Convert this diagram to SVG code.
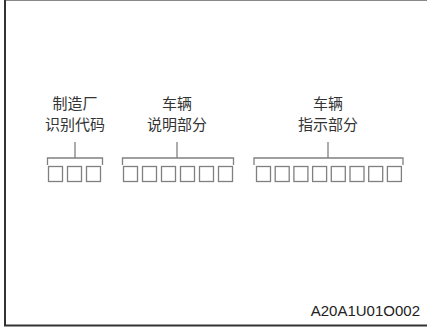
<svg xmlns="http://www.w3.org/2000/svg" width="427" height="328" viewBox="0 0 427 328">
<style>
.bx{fill:#fff;stroke:#808080;stroke-width:1.3}
.br{fill:none;stroke:#808080;stroke-width:1.3}
.lb{font-family:"Liberation Sans","Noto Sans CJK SC",sans-serif;font-size:15px;fill:#333;text-anchor:middle}
</style>
<rect width="427" height="328" fill="#fff"/>
<g id="frame">
<line x1="4" y1="0.5" x2="427" y2="0.5" stroke="#888" stroke-width="1"/>
<line x1="5" y1="0" x2="5" y2="326" stroke="#333" stroke-width="2"/>
<line x1="4" y1="325.5" x2="427" y2="325.5" stroke="#333" stroke-width="2"/>
</g>
<g id="connectors">
<path class="br" d="M75,142V158M47.5,165V158H102.5V165"/>
<path class="br" d="M177,142V158M122.5,165V158H233.5V165"/>
<path class="br" d="M328,142V158M254,165V158H403V165"/>
</g>
<g id="wmi">
<text class="lb" x="75" y="108.5">制造厂</text>
<text class="lb" x="75" y="130">识别代码</text>
<rect class="bx" x="48.5" y="166.5" width="14" height="15"/>
<rect class="bx" x="67.5" y="166.5" width="14" height="15"/>
<rect class="bx" x="86.5" y="166.5" width="14" height="15"/>
</g>
<g id="vds">
<text class="lb" x="177" y="108.5">车辆</text>
<text class="lb" x="177" y="130">说明部分</text>
<rect class="bx" x="123.5" y="166.5" width="14" height="15"/>
<rect class="bx" x="142.5" y="166.5" width="14" height="15"/>
<rect class="bx" x="161.5" y="166.5" width="14" height="15"/>
<rect class="bx" x="180.5" y="166.5" width="14" height="15"/>
<rect class="bx" x="199.5" y="166.5" width="14" height="15"/>
<rect class="bx" x="218.5" y="166.5" width="14" height="15"/>
</g>
<g id="vis">
<text class="lb" x="328" y="108.5">车辆</text>
<text class="lb" x="328" y="130">指示部分</text>
<rect class="bx" x="256.5" y="166.5" width="14" height="15"/>
<rect class="bx" x="275.2" y="166.5" width="14" height="15"/>
<rect class="bx" x="293.9" y="166.5" width="14" height="15"/>
<rect class="bx" x="312.6" y="166.5" width="14" height="15"/>
<rect class="bx" x="331.3" y="166.5" width="14" height="15"/>
<rect class="bx" x="350" y="166.5" width="14" height="15"/>
<rect class="bx" x="368.7" y="166.5" width="14" height="15"/>
<rect class="bx" x="387.4" y="166.5" width="14" height="15"/>
</g>
<g id="code">
<text x="420" y="316" font-family="Liberation Sans,sans-serif" font-size="15" fill="#222" text-anchor="end">A20A1U01O002</text>
</g>
</svg>
